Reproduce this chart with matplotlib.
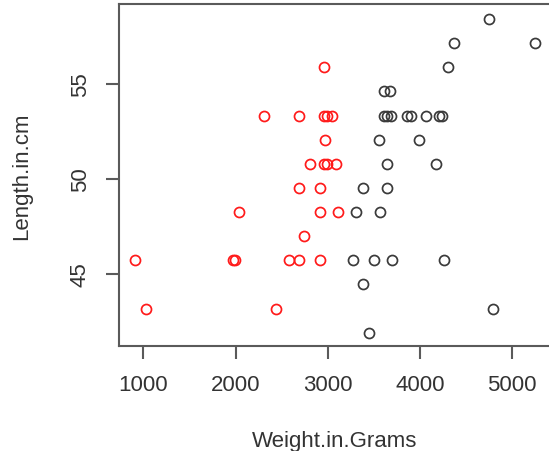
import matplotlib
matplotlib.use("Agg")
import matplotlib.pyplot as plt

plt.rcParams['font.family'] = ['Liberation Sans', 'DejaVu Sans']

# Red group
red_weight = [2956,
              2309, 2692, 2960, 2996, 3043,
              2974,
              2808, 2960, 2989, 3087,
              2692, 2913,
              2038, 2917, 3108,
              2743,
              910, 1976, 1995, 2584, 2692, 2917,
              1026, 2436]
red_length = [55.88,
              53.34, 53.34, 53.34, 53.34, 53.34,
              52.07,
              50.80, 50.80, 50.80, 50.80,
              49.53, 49.53,
              48.26, 48.26, 48.26,
              46.99,
              45.72, 45.72, 45.72, 45.72, 45.72, 45.72,
              43.18, 43.18]

# Black group
black_weight = [4753,
                4370, 5248,
                4301,
                3607, 3676,
                3610, 3647, 3683, 3864, 3900, 4063, 4207, 4243,
                3560, 3987,
                3643, 4178,
                3386, 3643,
                3307, 3567,
                3278, 3499, 3698, 4258,
                3386,
                4790,
                3451]
black_length = [58.42,
                57.15, 57.15,
                55.88,
                54.61, 54.61,
                53.34, 53.34, 53.34, 53.34, 53.34, 53.34, 53.34, 53.34,
                52.07, 52.07,
                50.80, 50.80,
                49.53, 49.53,
                48.26, 48.26,
                45.72, 45.72, 45.72, 45.72,
                44.45,
                43.18,
                41.91]

x_ticks = [1000, 2000, 3000, 4000, 5000]
y_ticks = [45, 50, 55]

W, H = 549, 452
fig = plt.figure(figsize=(W / 100, H / 100), dpi=100)
ax = fig.add_axes([119 / W, 1 - 346.5 / H, (W - 119) / W, (346.5 - 5) / H])

ax.plot(black_weight, black_length, linestyle='none', marker='o',
        markersize=7.2, markerfacecolor='none', markeredgecolor='#3a3a3a',
        markeredgewidth=1.25)
ax.plot(red_weight, red_length, linestyle='none', marker='o',
        markersize=7.2, markerfacecolor='none', markeredgecolor='#ff1a1a',
        markeredgewidth=1.25)

ax.set_xlim(736.4, 5400)
ax.set_ylim(41.237, 59.21)

ax.set_xticks(x_ticks)
ax.set_yticks(y_ticks)

spine_col = '#5a5a5a'
for s in ['top', 'left', 'bottom']:
    ax.spines[s].set_color(spine_col)
    ax.spines[s].set_linewidth(1.5)
ax.spines['right'].set_visible(False)

ax.tick_params(axis='both', direction='out', length=9.7, width=1.5,
               color=spine_col, labelsize=16, labelcolor='#333333')
ax.tick_params(axis='x', pad=10.5)
ax.tick_params(axis='y', pad=10.5)
for lab in ax.get_yticklabels():
    lab.set_rotation(90)
    lab.set_va('center')

ax.set_xlabel('Weight.in.Grams', fontsize=16, color='#333333')
ax.xaxis.set_label_coords(0.502, -0.247)
ax.set_ylabel('Length.in.cm', fontsize=16, color='#333333', va='center')
ax.yaxis.set_label_coords(-0.2256, 0.5)

fig.savefig('out.png', dpi=100)
